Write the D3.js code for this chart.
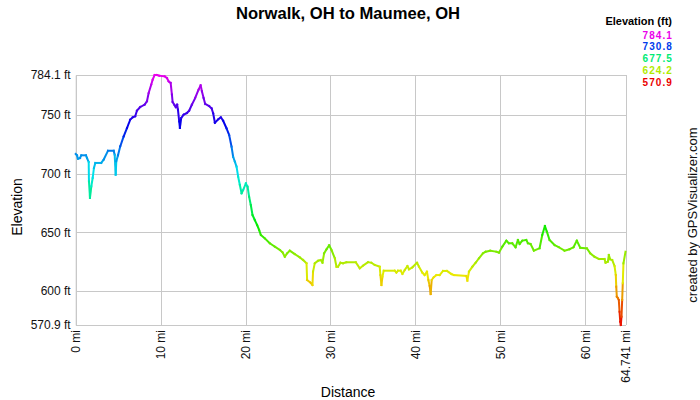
<!DOCTYPE html>
<html>
<head>
<meta charset="utf-8">
<script src="https://cdn.jsdelivr.net/npm/d3@7"></script>
<style>
  body { margin: 0; background: #fff; }
  text { font-family: "Liberation Sans", Arial, sans-serif; }
</style>
</head>
<body>
<div id="chart"></div>
<script>
var width = 700;
var height = 400;

var margin = {top: 75, right: 74.5, bottom: 75, left: 75.7}

// track profile: distance (mi) and elevation (ft)
var distMi = [0, 0.15, 0.27, 0.51, 0.66, 1.21, 1.33, 1.53, 1.56, 1.68, 1.84, 2.0, 2.15, 2.31, 3.01, 3.29, 3.8, 4.47, 4.59, 4.71,
  4.78, 4.98, 5.25, 5.65, 6.04, 6.42, 6.71, 7.01, 7.21, 7.6, 8.12, 8.39, 8.59, 8.89, 9.06, 9.29, 9.56, 9.84, 10.47, 10.74,
  10.94, 11.18, 11.33, 11.41, 11.65, 11.8, 11.95, 12.04, 12.19, 12.27, 12.42, 12.71, 13.09, 13.36, 13.68, 14.07, 14.47, 14.71, 14.86, 15.06,
  15.25, 15.72, 16.0, 16.19, 16.39, 16.78, 17.09, 17.36, 17.76, 18.07, 18.35, 18.54, 18.74, 18.94, 19.13, 19.33, 19.53, 19.72, 20.04, 20.24,
  20.42, 20.62, 20.82, 21.09, 21.36, 21.6, 21.8, 22.27, 22.86, 23.45, 24.04, 24.35, 24.62, 24.89, 25.21, 25.79, 26.38, 26.78, 27.18, 27.25,
  27.65, 27.88, 27.95, 28.15, 28.54, 28.86, 29.06, 29.25, 29.53, 29.84, 30.12, 30.51, 30.71, 30.89, 31.18, 31.48, 31.88, 32.98, 33.45, 33.84,
  34.42, 34.82, 35.21, 35.8, 35.88, 36.0, 36.12, 36.27, 37.56, 37.76, 37.95, 38.27, 38.47, 38.74, 39.06, 39.25, 39.65, 40.19, 40.42, 40.82,
  41.09, 41.36, 41.53, 41.68, 41.8, 41.92, 42.15, 42.47, 42.86, 43.25, 43.72, 44.24, 44.51, 46.0, 46.12, 46.31, 46.71, 47.09, 47.48, 47.95,
  48.27, 48.82, 49.53, 49.84, 50.24, 50.71, 51.01, 51.41, 51.8, 52.07, 52.27, 52.59, 53.06, 53.25, 53.56, 53.95, 54.62, 54.94, 55.25, 55.48,
  55.8, 56.39, 56.89, 57.56, 58.15, 58.62, 59.01, 59.41, 60.19, 60.59, 61.09, 61.6, 62.27, 62.39, 62.66, 62.78, 62.94, 63.18, 63.45, 63.6,
  63.65, 63.72, 63.84, 63.95, 64.04, 64.12, 64.19, 64.27, 64.35, 64.42, 64.5, 64.741]
var elevFt = [716.7, 715.6, 712.7, 713.3, 715.6, 715.6, 713.3, 709.9, 693.4, 679.2, 689.2, 696.3, 704.8, 709.1, 709.1, 711.9, 719.5, 719.5, 716.1, 699.1,
  710.5, 715.6, 723.3, 731.8, 738.9, 746.0, 748.0, 748.9, 753.7, 756.8, 758.8, 761.7, 768.7, 775.8, 780.1, 784.1, 784.1, 783.5, 783.0, 781.5,
  778.7, 777.3, 767.3, 761.1, 758.3, 756.6, 758.8, 754.5, 744.6, 738.9, 747.4, 750.2, 751.7, 753.7, 758.8, 764.5, 771.6, 775.3, 770.2, 764.5,
  759.4, 757.5, 755.7, 751.4, 743.4, 746.3, 748.0, 745.1, 738.6, 732.9, 723.0, 714.4, 710.2, 705.9, 697.4, 690.3, 683.2, 686.0, 691.7, 688.8,
  680.3, 673.2, 664.7, 660.4, 656.2, 651.9, 647.7, 644.8, 640.6, 637.7, 634.9, 632.9, 629.1, 632.0, 634.3, 631.4, 628.6, 626.3, 623.5, 609.3,
  607.0, 605.0, 616.4, 623.5, 625.7, 626.3, 624.0, 632.0, 635.5, 638.9, 634.9, 627.8, 620.6, 620.6, 624.0, 623.5, 624.4, 624.4, 619.3, 621.5,
  624.4, 624.0, 622.1, 620.6, 613.5, 605.0, 612.1, 617.2, 617.2, 615.5, 617.2, 617.2, 614.4, 617.8, 621.2, 618.4, 620.1, 624.0, 620.6, 615.5,
  613.5, 616.4, 609.3, 604.2, 597.3, 609.3, 611.6, 613.5, 613.5, 617.0, 617.0, 614.4, 613.5, 612.7, 608.7, 616.4, 620.6, 624.0, 627.8, 632.0,
  633.4, 634.3, 633.4, 632.6, 637.7, 642.8, 640.6, 640.6, 637.2, 643.4, 640.0, 642.8, 643.4, 640.6, 640.0, 634.3, 636.3, 647.7, 655.3, 650.5,
  643.4, 639.1, 637.2, 634.3, 635.5, 637.2, 642.8, 636.8, 636.3, 632.0, 629.1, 627.2, 627.2, 624.0, 624.9, 630.6, 626.9, 626.3, 621.2, 613.5,
  603.6, 595.0, 593.9, 592.2, 582.2, 573.7, 570.9, 578.0, 592.2, 606.5, 623.5, 633.4]

var xTicks = [0, 10, 20, 30, 40, 50, 60, 64.741]
var xTickLabels = ["0 mi", "10 mi", "20 mi", "30 mi", "40 mi", "50 mi", "60 mi", "64.741 mi"]
var yTicks = [570.9, 600, 650, 700, 750, 784.1]
var yTickLabels = ["570.9 ft", "600 ft", "650 ft", "700 ft", "750 ft", "784.1 ft"]
var legendValues = [784.1, 730.8, 677.5, 624.2, 570.9]

var minElev = 570.9, maxElev = 784.1

var innerW = width - margin.left - margin.right
var innerH = height - margin.top - margin.bottom

var svg = d3.select("#chart").append("svg")
  .attr("width", width)
  .attr("height", height)

var g = svg.append("g")
  .attr("transform", "translate(" + margin.left + "," + margin.top + ")")

var x = d3.scaleLinear().domain([0, 64.741]).range([0, innerW])
var y = d3.scaleLinear().domain([minElev, maxElev]).range([innerH, 0])

// elevation -> hue, red at the bottom through to magenta at the top
var hue = d3.scaleLinear().domain([minElev, maxElev]).range([0, 300])
var color = (e) => d3.hsl(hue(e), 1, 0.46).formatHex()

// grid
g.append("g")
  .attr("class", "grid")
  .call(d3.axisLeft(y).tickValues(yTicks).tickSize(-innerW).tickFormat(""))
g.append("g")
  .attr("class", "grid")
  .attr("transform", "translate(0," + innerH + ")")
  .call(d3.axisBottom(x).tickValues(xTicks).tickSize(-innerH).tickFormat(""))
g.selectAll(".grid path").remove()
g.selectAll(".grid line").attr("stroke", "#c8c8c8").attr("shape-rendering", "crispEdges")

// y tick labels
var yAxis = g.append("g")
  .call(d3.axisLeft(y).tickValues(yTicks).tickSize(0).tickPadding(5)
    .tickFormat((d, i) => yTickLabels[i]))
yAxis.select(".domain").attr("stroke", "#c8c8c8")
yAxis.selectAll("text")
  .attr("font-size", 12)
  .attr("fill", "#111")
  .attr("font-family", "Liberation Sans, Arial, sans-serif")

// x tick labels, rotated
var xAxis = g.append("g")
  .attr("transform", "translate(0," + innerH + ")")
  .call(d3.axisBottom(x).tickValues(xTicks).tickSize(0)
    .tickFormat((d, i) => xTickLabels[i]))
xAxis.select(".domain").attr("stroke", "#c8c8c8")
xAxis.selectAll("text")
  .attr("font-size", 12)
  .attr("fill", "#111")
  .attr("font-family", "Liberation Sans, Arial, sans-serif")
  .attr("text-anchor", "end")
  .attr("dy", null)
  .attr("y", 0)
  .attr("transform", "translate(4,5) rotate(-90)")

// profile line, one short segment per step so each gets its own colour
var pts = distMi.map((d, i) => ({mi: d, ft: elevFt[i]}))
g.append("g")
  .selectAll("line")
  .data(d3.pairs(pts))
  .enter()
  .append("line")
  .attr("x1", (d) => x(d[0].mi))
  .attr("y1", (d) => y(d[0].ft))
  .attr("x2", (d) => x(d[1].mi))
  .attr("y2", (d) => y(d[1].ft))
  .attr("stroke", (d) => color((d[0].ft + d[1].ft) / 2))
  .attr("stroke-width", 2)
  .attr("stroke-linecap", "square")

// titles
svg.append("text")
  .attr("x", 348)
  .attr("y", 19)
  .attr("text-anchor", "middle")
  .attr("font-size", 16.6)
  .attr("font-weight", "bold")
  .text("Norwalk, OH to Maumee, OH")

svg.append("text")
  .attr("x", 348)
  .attr("y", 397)
  .attr("text-anchor", "middle")
  .attr("font-size", 14)
  .text("Distance")

svg.append("text")
  .attr("transform", "translate(22,207) rotate(-90)")
  .attr("text-anchor", "middle")
  .attr("font-size", 14)
  .text("Elevation")

svg.append("text")
  .attr("transform", "translate(697,215) rotate(-90)")
  .attr("text-anchor", "middle")
  .attr("font-size", 13)
  .attr("fill", "#111")
  .text("created by GPSVisualizer.com")

// legend
svg.append("text")
  .attr("x", 672)
  .attr("y", 25)
  .attr("text-anchor", "end")
  .attr("font-size", 11)
  .attr("font-weight", "bold")
  .text("Elevation (ft)")

svg.selectAll(".legend")
  .data(legendValues)
  .enter()
  .append("text")
  .attr("class", "legend")
  .attr("x", 673)
  .attr("y", (d, i) => 38.5 + i * 11.75)
  .attr("text-anchor", "end")
  .attr("font-size", 10)
  .attr("letter-spacing", 1.1)
  .attr("font-weight", "bold")
  .attr("fill", (d) => color(d))
  .text((d) => d.toFixed(1))
</script>
</body>
</html>
